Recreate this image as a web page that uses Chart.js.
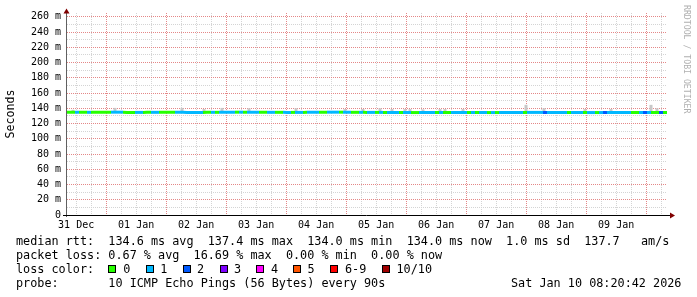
<!DOCTYPE html>
<html>
<head>
<meta charset="utf-8">
<script src="https://cdn.jsdelivr.net/npm/chart.js@4.4.1/dist/chart.umd.min.js"></script>
<style>
  body { margin: 0; background: #fff; }
  #wrap { position: relative; width: 697px; height: 297px; overflow: hidden; font-family: "DejaVu Sans Mono", monospace; }
  #chart { position: absolute; left: 0; top: 0; }
  .t { position: absolute; font-size: 11.8px; line-height: 14px; white-space: pre; color: #000; }
  .sw { position: absolute; width: 6px; height: 6px; border: 1px solid #000; }
  #credit { position: absolute; left: 682px; top: 5px; writing-mode: vertical-rl; font-size: 8.2px; line-height: 10px; color: #b0b0b0; white-space: pre; }
</style>
</head>
<body>
<div id="wrap">
  <canvas id="chart" width="697" height="235"></canvas>
  <div id="credit">RRDTOOL / TOBI OETIKER</div>
  <div id="legend"></div>
</div>
<script>
// hours since start of graph (31 Dec 08:20:42), one sample per 1.6 h
const sampleHours = 1.6;
const firstMidnight = 15.655;
const dayLabels = ['31 Dec', '01 Jan', '02 Jan', '03 Jan', '04 Jan', '05 Jan', '06 Jan', '07 Jan', '08 Jan', '09 Jan'];
const yTickValues = [0, 10, 20, 30, 40, 50, 60, 70, 80, 90, 100, 110, 120, 130, 140, 150, 160, 170, 180, 190, 200, 210, 220, 230, 240, 250, 260];

// lost pings (of 10) per sample
const lossCount = [
  0, 0, 1, 0, 0, 1, 0, 0, 0, 0,
  0, 1, 1, 1, 0, 0, 0, 1, 1, 0,
  0, 1, 1, 0, 0, 0, 0, 1, 1, 1,
  1, 1, 1, 1, 0, 0, 1, 0, 1, 1,
  1, 1, 0, 1, 0, 1, 1, 1, 0, 0,
  1, 1, 0, 0, 1, 1, 0, 1, 1, 0,
  1, 1, 1, 0, 0, 1, 1, 1, 0, 1,
  1, 0, 0, 1, 0, 1, 1, 0, 1, 0,
  1, 1, 1, 0, 1, 1, 0, 0, 1, 1,
  1, 1, 0, 1, 0, 0, 1, 1, 1, 1,
  0, 1, 0, 1, 1, 0, 1, 0, 1, 1,
  1, 1, 1, 1, 0, 1, 1, 1, 1, 2,
  1, 1, 1, 1, 1, 0, 1, 1, 1, 0,
  1, 1, 0, 1, 2, 1, 1, 1, 1, 1,
  1, 0, 0, 1, 2, 1, 0, 0, 2, 0
];

// median rtt in ms, one value per 8 h
const medianRtt = [
  134.8, 134.7, 134.9, 134.6, 134.7, 134.8, 134.6, 134.7, 134.9, 134.8,
  134.7, 134.6, 134.8, 134.9, 134.7, 134.6, 134.5, 134.4, 134.5, 134.4,
  134.5, 134.4, 134.5, 134.6, 134.4, 134.5, 134.4, 134.6, 134.5, 134.5
];

// smoke spikes above the median
const smokeHours = [2.4, 19.2, 46, 54.8, 62, 72.8, 91.6, 111.2, 118.4, 125.2, 130, 135.2, 137.2, 142.4, 149.2, 151.2, 158.4, 183.6, 190.8, 207.2, 217.6, 233.6, 236];
const smokeTop = [138, 140.5, 140.5, 139, 140.5, 140, 140, 139, 139, 140, 139, 139, 139, 138.5, 139, 139, 139, 144.5, 140, 139, 139, 144.5, 140];

const lossColors = ['#26ff00', '#00b8ff', '#0059ff', '#7e00ff', '#ff00ff', '#ff5500', '#ff0000', '#a00000'];
const lossNames = ['0', '1', '2', '3', '4', '5', '6-9', '10/10'];

const mono = "'DejaVu Sans Mono', monospace";
const majorGrid = 'rgb(228, 135, 135)';
const minorGrid = 'rgb(212, 212, 212)';

let linePoints = [];
for (let i = 0; i <= lossCount.length; i++) {
  let m = medianRtt[Math.min(Math.floor(i / 5), medianRtt.length - 1)];
  linePoints.push({ x: i * sampleHours, y: m });
}
let smokePoints = smokeHours.map((h, i) => ({ x: h, y: [136, smokeTop[i]] }));

function isMidnight(v) {
  return Math.round((v - firstMidnight) / 6) % 4 === 0;
}

const axisArrows = {
  id: 'axisArrows',
  afterDraw(chart) {
    const ctx = chart.ctx;
    const a = chart.chartArea;
    ctx.save();
    ctx.lineWidth = 1;
    ctx.strokeStyle = '#606060';
    ctx.beginPath();
    ctx.moveTo(a.left - 0.5, a.bottom + 2);
    ctx.lineTo(a.left - 0.5, a.top - 1);
    ctx.stroke();
    ctx.strokeStyle = '#000';
    ctx.beginPath();
    ctx.moveTo(a.left - 4, a.bottom + 0.5);
    ctx.lineTo(a.right + 3, a.bottom + 0.5);
    ctx.stroke();
    ctx.fillStyle = '#800000';
    ctx.beginPath();
    ctx.moveTo(a.right + 3, a.bottom - 2.5);
    ctx.lineTo(a.right + 8, a.bottom + 0.5);
    ctx.lineTo(a.right + 3, a.bottom + 3.5);
    ctx.fill();
    ctx.beginPath();
    ctx.moveTo(a.left - 3.5, a.top + 0.5);
    ctx.lineTo(a.left - 0.5, a.top - 4.5);
    ctx.lineTo(a.left + 2.5, a.top + 0.5);
    ctx.fill();
    ctx.restore();
  }
};

new Chart(document.getElementById('chart').getContext('2d'), {
  type: 'line',
  data: {
    datasets: [{
      type: 'line',
      data: linePoints,
      order: 1,
      borderWidth: 3,
      borderCapStyle: 'butt',
      pointRadius: 0,
      tension: 0,
      segment: {
        borderColor: ctx => lossColors[lossCount[ctx.p0DataIndex]]
      }
    }, {
      type: 'bar',
      data: smokePoints,
      order: 2,
      backgroundColor: '#c8c8c8',
      barThickness: 3,
      inflateAmount: 0,
      borderWidth: 0
    }]
  },
  options: {
    responsive: false,
    animation: false,
    events: [],
    layout: { padding: { top: 13, right: 30, left: 0, bottom: 0 } },
    plugins: {
      legend: { display: false },
      tooltip: { enabled: false }
    },
    scales: {
      x: {
        type: 'linear',
        min: 0,
        max: 240,
        offset: false,
        afterBuildTicks: s => {
          let t = [];
          for (let h = firstMidnight - 12; h <= 240; h += 6) t.push({ value: h });
          s.ticks = t;
        },
        afterFit: s => { s.height = 20; },
        grid: {
          offset: false,
          drawTicks: false,
          lineWidth: 1,
          color: c => (c.tick && isMidnight(c.tick.value)) ? majorGrid : minorGrid
        },
        border: { display: false, dash: [1, 1] },
        ticks: {
          autoSkip: false,
          maxRotation: 0,
          padding: 4,
          color: '#000',
          font: { family: mono, size: 10 },
          callback: v => {
            let k = Math.round((v - firstMidnight) / 6);
            if (((k % 4) + 4) % 4 !== 2) return '';
            return dayLabels[Math.round((v - firstMidnight - 12) / 24) + 1] || '';
          }
        }
      },
      y: {
        type: 'linear',
        min: 0,
        max: 265,
        afterBuildTicks: s => { s.ticks = yTickValues.map(v => ({ value: v })); },
        afterFit: s => { s.width = 67; },
        grid: {
          drawTicks: false,
          lineWidth: 1,
          color: c => (c.tick && c.tick.value % 20 === 0) ? majorGrid : minorGrid
        },
        border: { display: false, dash: [1, 1] },
        ticks: {
          autoSkip: false,
          padding: 6,
          color: '#000',
          font: { family: mono, size: 10 },
          callback: v => v % 20 === 0 ? (v === 0 ? '0' : v + ' m') : ''
        },
        title: {
          display: true,
          text: 'Seconds',
          color: '#000',
          font: { family: mono, size: 11.6 },
          padding: { top: 4, bottom: 4 }
        }
      }
    }
  },
  plugins: [axisArrows]
});

// legend rows under the graph (monospaced, like rrdtool's GPRINT lines)
const rttLine = 'median rtt:  134.6 ms avg  137.4 ms max  134.0 ms min  134.0 ms now  1.0 ms sd  137.7   am/s';
const lossLine = 'packet loss: 0.67 % avg  16.69 % max  0.00 % min  0.00 % now';
const probeLine = 'probe:       10 ICMP Echo Pings (56 Bytes) every 90s';
const dateLine = 'Sat Jan 10 08:20:42 2026';
const rowY = [240.5, 254.5, 268.5, 282.5];
const swatchX = [108, 145.5, 182.5, 219.5, 256.3, 293, 330, 381.5];
const swatchTextX = [123.3, 160.3, 197, 234, 271, 307.5, 345, 396.5];

let legend = document.getElementById('legend');
function addText(x, cy, txt) {
  let s = document.createElement('div');
  s.className = 't';
  s.style.left = x + 'px';
  s.style.top = (cy - 6.8) + 'px';
  s.textContent = txt;
  legend.appendChild(s);
}
addText(16, rowY[0], rttLine);
addText(16, rowY[1], lossLine);
addText(16, rowY[2], 'loss color:');
addText(16, rowY[3], probeLine);
addText(511, rowY[3], dateLine);
lossNames.forEach((name, i) => {
  let b = document.createElement('div');
  b.className = 'sw';
  b.style.left = swatchX[i] + 'px';
  b.style.top = (rowY[2] - 4) + 'px';
  b.style.backgroundColor = lossColors[i];
  legend.appendChild(b);
  addText(swatchTextX[i], rowY[2], name);
});
</script>
</body>
</html>
